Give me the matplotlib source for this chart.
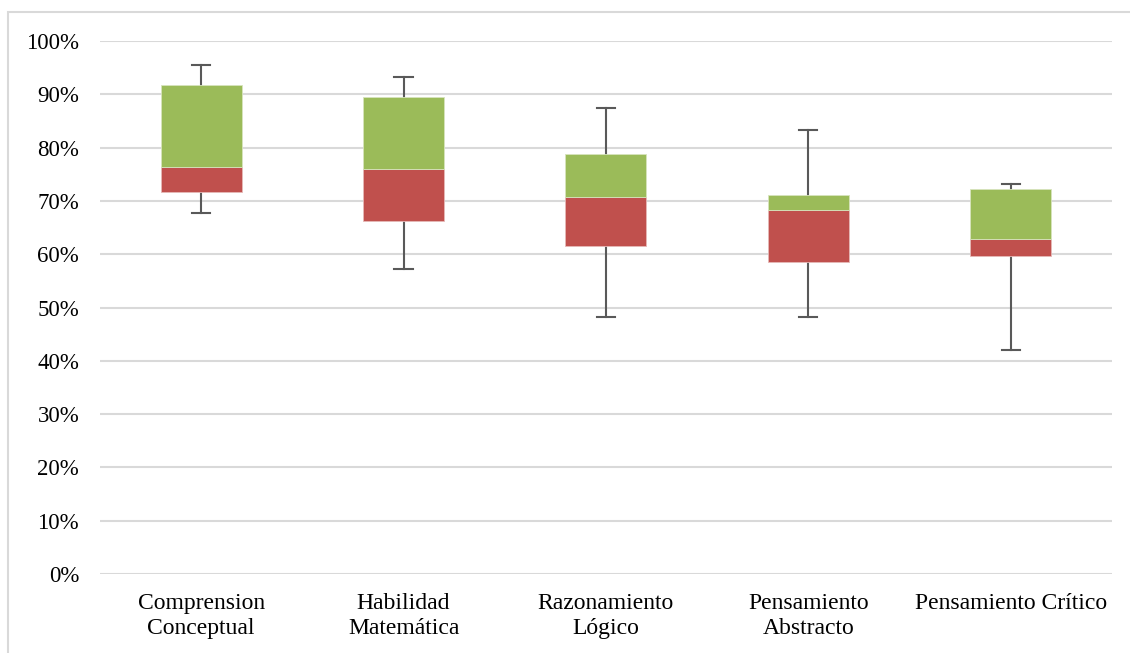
import matplotlib.pyplot as plt
from matplotlib.patches import Rectangle

# values (fractions)
categories = ['Comprension\nConceptual', 'Habilidad\nMatemática', 'Razonamiento\nLógico',
              'Pensamiento\nAbstracto', 'Pensamiento Crítico']
whisker_low = [0.677, 0.572, 0.482, 0.482, 0.420]
q1 = [0.717, 0.662, 0.615, 0.585, 0.597]
median = [0.763, 0.760, 0.707, 0.683, 0.628]
q3 = [0.917, 0.895, 0.788, 0.711, 0.722]
whisker_high = [0.955, 0.932, 0.874, 0.833, 0.732]
yticks = [i / 10 for i in range(11)]

plt.rcParams['font.family'] = ['Liberation Serif', 'DejaVu Serif']

fig = plt.figure(figsize=(11.3, 6.53), dpi=100)
ax = fig.add_axes([0.0885, 0.121, 0.8955, 0.816])

# outer frame of the chart
fig.patches.append(Rectangle((8 / 1130, -0.01), 1.0, 1 - 12 / 653 + 0.01,
                             transform=fig.transFigure, fill=False,
                             edgecolor='#D9D9D9', linewidth=1.5))

x = list(range(len(categories)))
low_part = [m - a for m, a in zip(median, q1)]
high_part = [b - m for b, m in zip(q3, median)]

# whiskers
for i in x:
    ax.plot([i, i], [whisker_low[i], q1[i]], color='#595959', lw=1.5, zorder=2)
    ax.plot([i, i], [q3[i], whisker_high[i]], color='#595959', lw=1.5, zorder=2)
    ax.plot([i - 0.045, i + 0.045], [whisker_low[i]] * 2, color='#595959', lw=1.5, zorder=2)
    ax.plot([i - 0.045, i + 0.045], [whisker_high[i]] * 2, color='#595959', lw=1.5, zorder=2)

ax.bar(x, low_part, bottom=q1, width=0.4, color='#C0504D', edgecolor='#E6B9B8',
       linewidth=0.6, zorder=3)
ax.bar(x, high_part, bottom=median, width=0.4, color='#9BBB59', edgecolor='#D7E4BD',
       linewidth=0.6, zorder=3)

ax.set_xlim(-0.5, 4.5)
ax.set_ylim(0, 1)
ax.set_yticks(yticks)
ax.set_yticklabels([f'{int(round(t * 100))}%' for t in yticks])
ax.set_xticks(x)
ax.set_xticklabels(categories, linespacing=1.25)
ax.tick_params(axis='both', length=0, labelsize=16.5, colors='black')
ax.tick_params(axis='x', labelsize=17, pad=14)
ax.tick_params(axis='y', pad=15)
ax.grid(axis='y', color='#D9D9D9', linewidth=1.5, zorder=0)
ax.set_axisbelow(True)
for s in ax.spines.values():
    s.set_visible(False)

fig.savefig('out.png', dpi=100)
